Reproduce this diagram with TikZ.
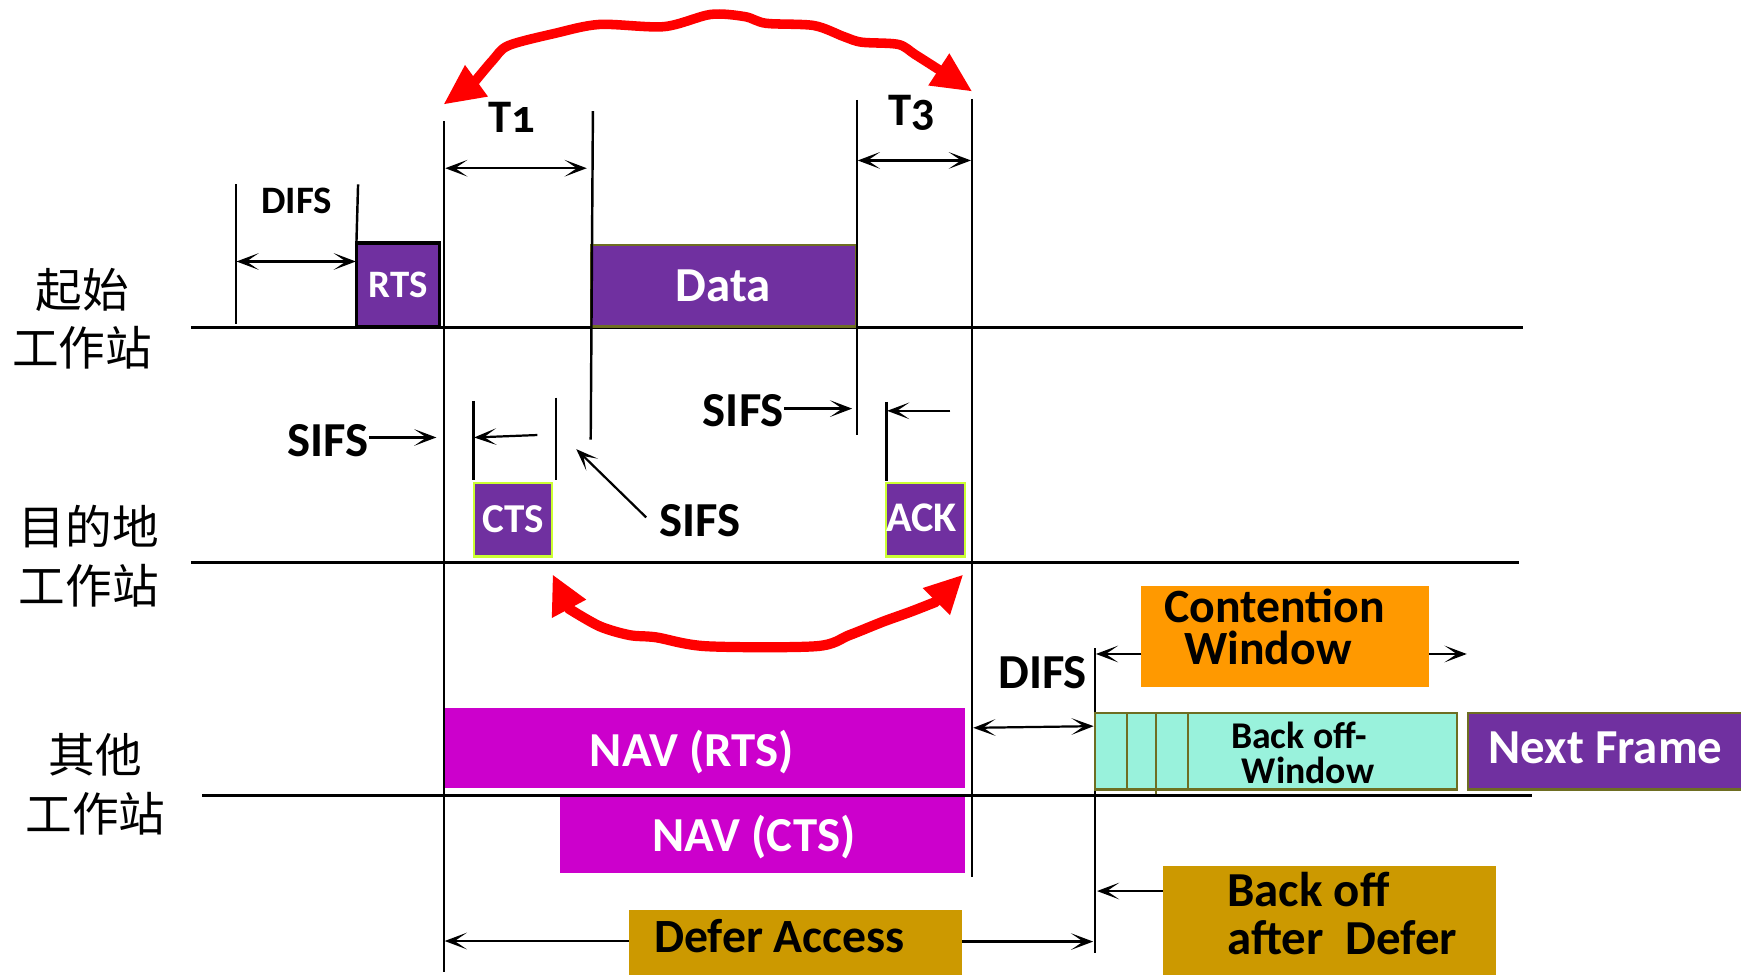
\documentclass[tikz,border=0pt]{standalone}
\usepackage{fontspec}
\setmainfont{Carlito}
\newfontfamily\oldfig{Carlito}[Numbers=OldStyle]
\newfontfamily\cjk{Noto Sans CJK SC}
\usetikzlibrary{arrows.meta}

\definecolor{framepurple}{HTML}{7030A0}
\definecolor{navmagenta}{HTML}{CC00CC}
\definecolor{defergold}{HTML}{CC9900}
\definecolor{cworange}{HTML}{FF9900}
\definecolor{backoffmint}{HTML}{99F2DC}
\definecolor{boxolive}{HTML}{6E6E22}
\definecolor{ctslime}{HTML}{CCFF33}

\newcommand{\fs}[1]{\fontsize{#1}{1.2\dimexpr#1pt\relax}\selectfont\bfseries}

\begin{document}
\begin{tikzpicture}[x=0.5pt, y=-0.5pt,
  >={Stealth[length=10pt,width=7.5pt,inset=5.5pt]},
  axisline/.style={line width=1.35pt},
  tickline/.style={line width=1.1pt},
  dimline/.style={line width=1pt},
  redline/.style={red, line width=4.3pt, line join=round, line cap=round},
  block/.style={inner sep=0pt, outer sep=0pt},
  frame/.style={block, fill=framepurple, text=white},
  navbox/.style={block, fill=navmagenta},
  goldbox/.style={block, fill=defergold},
  label/.style={inner sep=0pt, anchor=base},
  station/.style={inner sep=0pt, align=center, font={\cjk\fontsize{21}{26.5}\selectfont}},
]
\useasboundingbox (0,0) rectangle (1568,878);

% ---------- time axes of the three stations ----------
\coordinate (ax1w) at (172,295);  \coordinate (ax1e) at (1372,295);
\coordinate (ax2w) at (172,507);  \coordinate (ax2e) at (1368,507);
\coordinate (ax3w) at (182,716);  \coordinate (ax3e) at (1380,716);
\draw[axisline] (ax1w) -- (ax1e);
\draw[axisline] (ax2w) -- (ax2e);
\draw[axisline] (ax3w) -- (ax3e);

\node[station] (src) at (74,287) {起始\\工作站};
\node[station] (dst) at (80,501) {目的地\\工作站};
\node[station] (oth) at (86,706) {其他\\工作站};

% ---------- frames ----------
\node[frame, draw=black, line width=1.6pt, minimum width=37.5pt, minimum height=37.5pt,
      font=\fs{17.5}] (rts) at (358.5,256.5) {RTS};
\node[frame, draw=boxolive, line width=1pt, minimum width=119.5pt, minimum height=36.5pt,
      font=\fs{22}] (data) at (651.5,257.5) {Data};
\node[frame, draw=ctslime, line width=1.2pt, minimum width=35pt, minimum height=33pt,
      font=\fs{18.5}] (cts) at (462,468) {CTS};
\node[frame, draw=ctslime, line width=1.2pt, minimum width=35.5pt, minimum height=33pt,
      font=\fs{18.5}] (ack) at (833.5,468) {};
\node[label, text=white, font=\fs{19}] (acktext) at (830,479) {ACK};

% ---------- time marks ----------
\coordinate (m0t) at (400,109);   \coordinate (m0b) at (400,875);
\coordinate (m1t) at (534,100);   \coordinate (m1b) at (532,396);
\coordinate (m2t) at (772,90);    \coordinate (m2b) at (772,392);
\coordinate (m3t) at (875.5,89);  \coordinate (m3b) at (875.5,790);
\coordinate (m4t) at (986,584);   \coordinate (m4b) at (986,858);
\coordinate (d0t) at (212.5,166); \coordinate (d0b) at (212.5,292);
\coordinate (d1t) at (322.5,166);
\coordinate (c0t) at (426.5,361); \coordinate (c0b) at (426.5,432);
\coordinate (c1t) at (500.5,358); \coordinate (c1b) at (500.5,432);
\coordinate (k0t) at (798.5,362); \coordinate (k0b) at (798.5,433);
\foreach \a/\b in {m0t/m0b, m1t/m1b, m2t/m2b, m3t/m3b, m4t/m4b, d0t/d0b, c0t/c0b, c1t/c1b, k0t/k0b}
  \draw[tickline] (\a) -- (\b);
\draw[tickline] (d1t) -- (rts.north west);

% ---------- interval arrows and their labels ----------
\coordinate (difsL) at (213,235.5);  \coordinate (difsR) at (320.5,235.5);
\draw[dimline,<->] (difsL) -- (difsR);
\node[label, font=\fs{17.5}] (difs1) at (267,192) {DIFS};

\coordinate (t1L) at (401,151.5);  \coordinate (t1R) at (528.5,151.5);
\draw[dimline,<->] (t1L) -- (t1R);
\node[label, font={\oldfig\fs{21}}] (t1) at (461,119.5) {T1};

\coordinate (t3L) at (772.5,144.5);  \coordinate (t3R) at (874.5,144.5);
\draw[dimline,<->] (t3L) -- (t3R);
\node[label, font={\oldfig\fs{21}}] (t3) at (821,112.6) {T3};

\node[label, font=\fs{22}] (sifs1) at (295.5,411) {SIFS};
\coordinate (s1e) at (393,394);
\draw[dimline,->] (sifs1.east |- s1e) -- (s1e);

\coordinate (cs0) at (484,391.8);  \coordinate (cs1) at (427,394);
\draw[dimline,->] (cs0) -- (cs1);

\node[label, font=\fs{22}] (sifs2) at (630.5,483.4) {SIFS};
\coordinate (s2s) at (582,466);  \coordinate (s2e) at (519,404.5);
\draw[dimline,->] (s2s) -- (s2e);

\node[label, font=\fs{22}] (sifs3) at (669.5,384) {SIFS};
\coordinate (s3e) at (767.5,368);
\draw[dimline,->] (sifs3.east |- s3e) -- (s3e);

\coordinate (ks0) at (856,370);  \coordinate (ks1) at (799,370);
\draw[dimline,->] (ks0) -- (ks1);

% ---------- the red exchange arcs ----------
\draw[redline] plot[smooth, tension=0.5] coordinates
  {(428,73) (444,54) (458,41) (500,30) (540,22) (598,24) (640,13) (671,15) (690,21)
   (733,23) (760,33) (776,38) (809,40) (824,49) (846,63)};
\fill[red] (400,93.7) -- (439.5,87) -- (418.8,58.5) -- cycle;
\fill[red] (875,82) -- (836,77) -- (855,48) -- cycle;

\draw[redline, line width=4.6pt] plot[smooth, tension=0.5] coordinates
  {(512,548) (540,564) (567,572) (591,574) (636,582) (735,582) (765,572) (795,560)
   (820,551) (843,542)};
\fill[red] (498,518) -- (497,556.6) -- (528,540) -- cycle;
\fill[red] (867,518) -- (831,529.6) -- (855.6,554) -- cycle;

% ---------- other stations: NAV and deferral ----------
\node[navbox, minimum width=234pt, minimum height=36pt] (navrts) at (635,674) {};
\node[label, text=white, font=\fs{22}] at (623,690) {NAV (RTS)};
\node[navbox, minimum width=182.5pt, minimum height=34.5pt] (navcts) at (686.5,752) {};
\node[label, text=white, font=\fs{22}] at (679,767) {NAV (CTS)};

\node[goldbox, minimum width=150pt, minimum height=30pt] (defer) at (716.5,850) {};
\node[label, font=\fs{21.5}] at (702,858) {Defer Access};
\coordinate (dfL) at (400.5,847.5);  \coordinate (dfR) at (984.5,848);
\draw[dimline,->] (defer.west |- dfL) -- (dfL);
\draw[dimline,->] (defer.east |- dfR) -- (dfR);

\coordinate (dfsL) at (876.5,655.5);  \coordinate (dfsR) at (985,654);
\draw[dimline,<->] (dfsL) -- (dfsR);
\node[label, font=\fs{22}] (difs2) at (939,619.7) {DIFS};

\node[block, fill=cworange, minimum width=129.5pt, minimum height=45.5pt] (cw) at (1157.5,573.5) {};
\node[label, font=\fs{21.5}] at (1148,560.5) {Contention};
\node[label, font=\fs{21.5}] at (1142,598.5) {Window};
\coordinate (cwL) at (987,589);  \coordinate (cwR) at (1321,589);
\draw[dimline,->] (cw.west |- cwL) -- (cwL);
\draw[dimline,->] (cw.east |- cwR) -- (cwR);

\node[block, fill=backoffmint, draw=boxolive, line width=1pt, minimum width=163pt,
      minimum height=34.5pt] (bow) at (1149,676.5) {};
\foreach \x/\yb in {1015/711, 1041/715, 1070/711}
  \draw[boxolive, line width=1pt] (\x,642) -- (\x,\yb);
\node[label, font=\fs{17}] at (1170,674) {Back off-};
\node[label, font=\fs{17}] at (1178,705.5) {Window};

\node[frame, draw=boxolive, line width=1pt, minimum width=129pt, minimum height=34.5pt]
  (next) at (1451,676.5) {};
\node[label, text=white, font=\fs{22}] at (1446,687.5) {Next Frame};

\node[goldbox, minimum width=150pt, minimum height=50pt] (bod) at (1197,830) {};
\node[label, anchor=base west, font=\fs{22}] at (1105,816.6) {Back off};
\node[label, anchor=base west, font=\fs{22}] at (1105,860) {after\ \ Defer};
\coordinate (bodL) at (988,802.5);
\draw[dimline,->] (bod.west |- bodL) -- (bodL);
\end{tikzpicture}
\end{document}
